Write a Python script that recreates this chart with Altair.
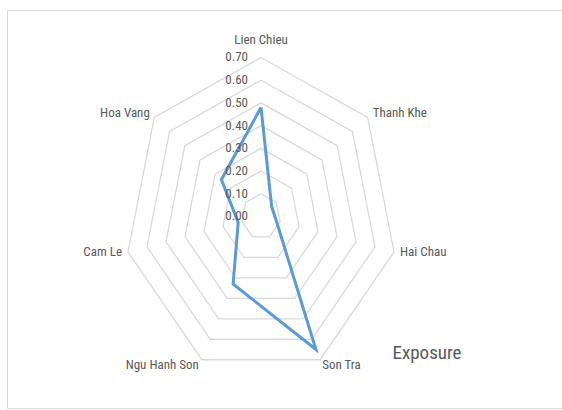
import altair as alt
import pandas as pd

# ---- data ----
categories = ["Lien Chieu", "Thanh Khe", "Hai Chau", "Son Tra", "Ngu Hanh Son", "Cam Le", "Hoa Vang"]
values = [0.48, 0.07, 0.08, 0.65, 0.33, 0.12, 0.26]
ring_levels = [0.1, 0.2, 0.3, 0.4, 0.5, 0.6, 0.7]
tick_values = [0.0, 0.1, 0.2, 0.3, 0.4, 0.5, 0.6, 0.7]
tick_labels = ["0.00", "0.10", "0.20", "0.30", "0.40", "0.50", "0.60", "0.70"]
series_name = "Exposure"

n = len(categories)
r_max = max(ring_levels)

FONT = "Liberation Sans Narrow, Roboto Condensed, Liberation Sans, Arial"
GREY_TEXT = "#595959"
GRID = "#d9d9d9"
BLUE = "#5b9bd5"

xscale = alt.Scale(domain=[-1.3032, 1.5444], nice=False, zero=False)
yscale = alt.Scale(domain=[-0.8432, 0.9091], nice=False, zero=False)

ang = f"datum.idx * 2 * PI / {n}"

# ---- rings (heptagons) ----
ring_rows = []
for lvl in ring_levels:
    for k in range(n + 1):
        ring_rows.append({"level": lvl, "idx": k})
rings_df = pd.DataFrame(ring_rows)

rings = alt.Chart(rings_df).transform_calculate(
    angle=ang
).transform_calculate(
    px="datum.level * sin(datum.angle)",
    py="datum.level * cos(datum.angle)",
).mark_line(color=GRID, strokeWidth=1.3).encode(
    x=alt.X("px:Q", scale=xscale, axis=None),
    y=alt.Y("py:Q", scale=yscale, axis=None),
    detail="level:N",
    order="idx:Q",
)

# ---- data polygon ----
poly_df = pd.DataFrame({
    "category": categories + [categories[0]],
    "value": values + [values[0]],
    "idx": list(range(n)) + [n],
})
poly = alt.Chart(poly_df).transform_calculate(
    angle=ang
).transform_calculate(
    px="datum.value * sin(datum.angle)",
    py="datum.value * cos(datum.angle)",
).mark_line(color=BLUE, strokeWidth=3, strokeJoin="miter").encode(
    x=alt.X("px:Q", scale=xscale, axis=None),
    y=alt.Y("py:Q", scale=yscale, axis=None),
    order="idx:Q",
)

# ---- radial tick labels ----
ticks_df = pd.DataFrame({"v": tick_values, "label": tick_labels})
tick_text = alt.Chart(ticks_df).transform_calculate(
    px="0"
).mark_text(align="right", baseline="middle", dx=-13, font=FONT, fontSize=13,
            color=GREY_TEXT).encode(
    x=alt.X("px:Q", scale=xscale, axis=None),
    y=alt.Y("v:Q", scale=yscale, axis=None),
    text="label:N",
)

# ---- category labels ----
lab_df = pd.DataFrame({"category": categories, "idx": list(range(n))})
label_styles = [
    ("center", 0, -17.5),
    ("left", 5, -4.5),
    ("left", 6, 0.5),
    ("left", 2, 5.5),
    ("right", -3, 5.5),
    ("right", -6, 0.5),
    ("right", -4.5, -4.5),
]
label_layers = []
for i, (al, dx, dy) in enumerate(label_styles):
    label_layers.append(
        alt.Chart(lab_df).transform_filter(f"datum.idx == {i}").transform_calculate(
            angle=ang
        ).transform_calculate(
            px=f"{r_max} * sin(datum.angle)",
            py=f"{r_max} * cos(datum.angle)",
        ).mark_text(align=al, baseline="middle", dx=dx, dy=dy, font=FONT,
                    fontSize=13, color=GREY_TEXT).encode(
            x=alt.X("px:Q", scale=xscale, axis=None),
            y=alt.Y("py:Q", scale=yscale, axis=None),
            text="category:N",
        )
    )

# ---- series name (legend text) ----
legend_df = pd.DataFrame({"name": [series_name]})
legend_text = alt.Chart(legend_df).mark_text(
    align="center", baseline="middle", font=FONT, fontSize=19, color=GREY_TEXT
).encode(
    x=alt.value(420),
    y=alt.value(343),
    text="name:N",
)

chart = alt.layer(rings, poly, tick_text, *label_layers, legend_text).properties(
    width=555,
    height=398,
    padding={"left": 7, "top": 10, "right": 0, "bottom": 2},
    autosize=alt.AutoSizeParams(type="none"),
    background="white",
).configure_view(stroke=GRID, strokeWidth=1)

chart.save("out.html", embed_options={"renderer": "svg", "actions": False})
